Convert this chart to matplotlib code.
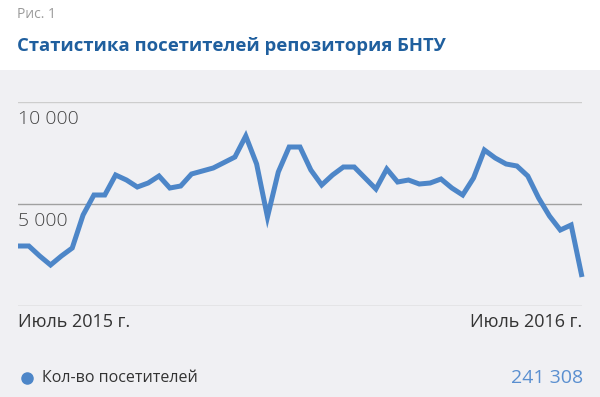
import matplotlib.pyplot as plt
from matplotlib.lines import Line2D
from matplotlib.transforms import blended_transform_factory, offset_copy

# weekly visitors, July 2015 .. July 2016
visitors = [2941, 2941, 2451, 2010, 2451, 2843, 4461, 5441, 5441, 6422,
            6176, 5833, 6029, 6373, 5784, 5882, 6471, 6618, 6765, 7034,
            7304, 8333, 6961, 4363, 6569, 7794, 7794, 6667, 5931, 6422,
            6814, 6814, 6275, 5735, 6716, 6078, 6176, 5980, 6029, 6225,
            5784, 5441, 6275, 7647, 7255, 6961, 6863, 6373, 5294, 4412,
            3725, 3971, 1422]
weeks = list(range(len(visitors)))
y_ticks = [0, 5000, 10000]
y_labels = ['', '5 000', '10 000']
x_labels = ['Июль 2015 г.', 'Июль 2016 г.']
series_name = 'Кол-во посетителей'
total = '241 308'

BG = '#f0f0f3'
LINE = '#4d86c8'
FONT = 'Open Sans'

fig = plt.figure(figsize=(6, 3.97), dpi=100)
fig.patch.set_facecolor('white')
# grey panel under the header
fig.patches.append(plt.Rectangle((0, 0), 1, 1 - 70 / 397, transform=fig.transFigure,
                                 facecolor=BG, edgecolor='none', zorder=-5))

fig.text(17 / 600, 1 - 15 / 397, 'Рис. 1', family=FONT, fontsize=10,
         color='#9a9a9a', va='center', ha='left')
fig.text(17 / 600, 1 - 46 / 397, 'Статистика посетителей репозитория БНТУ',
         family=FONT, fontsize=13.3, fontweight='bold', color='#1f5f9e',
         va='center', ha='left')

ax = fig.add_axes([18 / 600, 1 - 306 / 397, 564 / 600, 204 / 397])
ax.set_facecolor('none')
ax.plot(weeks, visitors, color=LINE, lw=3.6, solid_joinstyle='miter',
        solid_capstyle='butt', clip_on=False, zorder=3)
ax.set_xlim(weeks[0], weeks[-1])
ax.set_ylim(y_ticks[0], y_ticks[-1])
for s in ax.spines.values():
    s.set_visible(False)
ax.set_yticks([])
ax.set_xticks([])

grid_colors = ['#b4b4b4', '#a0a0a0', '#cdcdcd']
for v, c in zip(y_ticks, grid_colors):
    ax.axhline(v, color=c, lw=1, zorder=1)

tr = blended_transform_factory(ax.transAxes, ax.transData)
for v, lab in zip(y_ticks, y_labels):
    if lab:
        ax.text(0, v, lab, transform=offset_copy(tr, fig=fig, x=0, y=-12.5, units='points'),
                family=FONT, fontsize=14, fontweight='light', color='#444444',
                va='center', ha='left')

trx = blended_transform_factory(ax.transData, ax.transAxes)
for xv, lab, ha in zip([weeks[0], weeks[-1]], x_labels, ['left', 'right']):
    ax.text(xv, 0, lab, transform=offset_copy(trx, fig=fig, x=0, y=-11.5, units='points'),
            family=FONT, fontsize=13, color='#333333', va='center', ha=ha)

# legend row
fig.add_artist(Line2D([27 / 600], [1 - 378 / 397], transform=fig.transFigure,
                      marker='o', markersize=8, color=LINE, lw=0))
fig.text(42 / 600, 1 - 378 / 397, series_name, family=FONT, fontsize=11.5,
         color='#333333', va='center', ha='left')
fig.text(583 / 600, 1 - 378 / 397, total, family=FONT, fontsize=14,
         color='#5a8fd0', va='center', ha='right')

fig.savefig('out.png', dpi=100, facecolor=fig.get_facecolor())
